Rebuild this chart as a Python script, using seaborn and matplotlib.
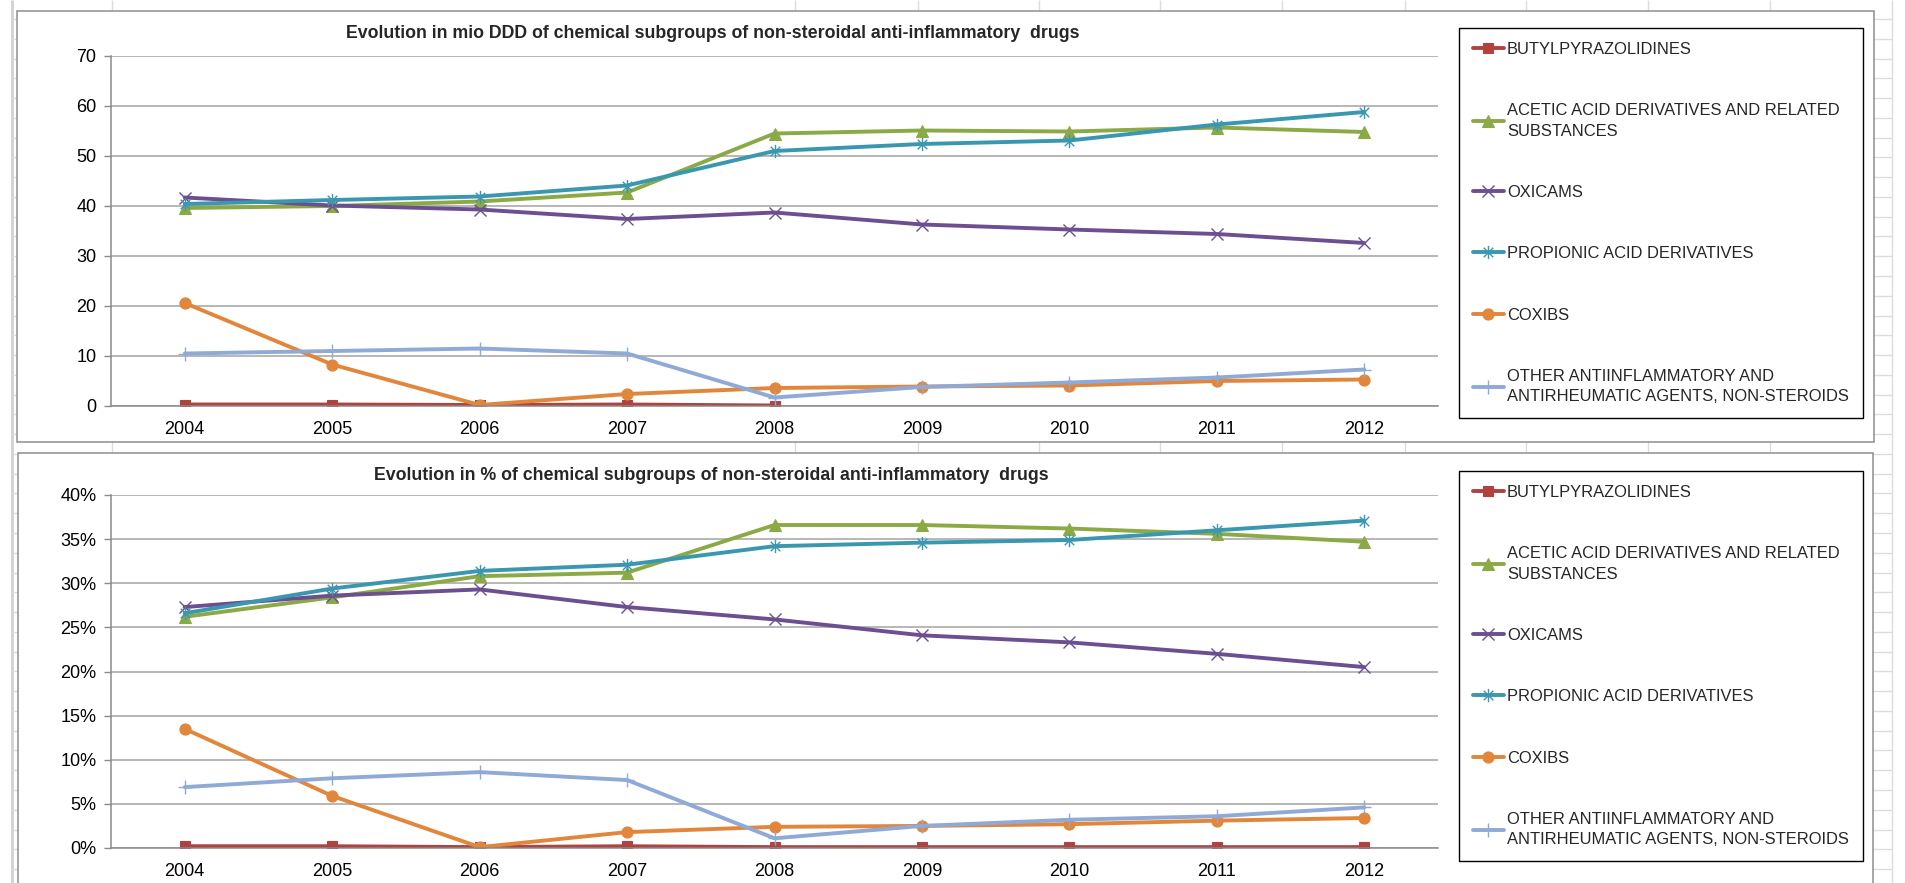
import numpy as np
import matplotlib
matplotlib.use("Agg")
import matplotlib.pyplot as plt
from matplotlib.patches import Rectangle
from matplotlib.path import Path
from matplotlib.ticker import FixedLocator, FuncFormatter
from matplotlib import font_manager
import seaborn as sns

# ---------------------------------------------------------------- data
years = [2004, 2005, 2006, 2007, 2008, 2009, 2010, 2011, 2012]

series_labels = [
    "BUTYLPYRAZOLIDINES",
    "ACETIC ACID DERIVATIVES AND RELATED\nSUBSTANCES",
    "OXICAMS",
    "PROPIONIC ACID DERIVATIVES",
    "COXIBS",
    "OTHER ANTIINFLAMMATORY AND\nANTIRHEUMATIC AGENTS, NON-STEROIDS",
]

# consumption in million DDD
ddd_butylpyrazolidines = [0.3, 0.3, 0.2, 0.3, 0.1, np.nan, np.nan, np.nan, np.nan]
ddd_acetic = [39.6, 40.0, 40.9, 42.7, 54.5, 55.1, 54.9, 55.7, 54.8]
ddd_oxicams = [41.7, 40.1, 39.3, 37.4, 38.7, 36.3, 35.3, 34.4, 32.6]
ddd_propionic = [40.4, 41.2, 41.9, 44.1, 51.0, 52.4, 53.1, 56.3, 58.8]
ddd_coxibs = [20.6, 8.3, 0.2, 2.4, 3.6, 3.9, 4.1, 5.0, 5.3]
ddd_other = [10.5, 11.0, 11.5, 10.5, 1.7, 3.8, 4.7, 5.7, 7.3]

# share of total, in percent
pct_butylpyrazolidines = [0.2, 0.2, 0.1, 0.2, 0.1, 0.1, 0.1, 0.1, 0.1]
pct_acetic = [26.2, 28.4, 30.8, 31.2, 36.6, 36.6, 36.2, 35.6, 34.7]
pct_oxicams = [27.3, 28.6, 29.3, 27.3, 25.9, 24.1, 23.3, 22.0, 20.5]
pct_propionic = [26.6, 29.4, 31.4, 32.1, 34.2, 34.6, 34.9, 36.0, 37.1]
pct_coxibs = [13.5, 5.9, 0.1, 1.8, 2.4, 2.5, 2.7, 3.1, 3.4]
pct_other = [6.9, 7.9, 8.6, 7.7, 1.1, 2.5, 3.2, 3.6, 4.6]

ddd_series = [ddd_butylpyrazolidines, ddd_acetic, ddd_oxicams,
              ddd_propionic, ddd_coxibs, ddd_other]
pct_series = [pct_butylpyrazolidines, pct_acetic, pct_oxicams,
              pct_propionic, pct_coxibs, pct_other]

ddd_ticks = [0, 10, 20, 30, 40, 50, 60, 70]
pct_ticks = [0, 5, 10, 15, 20, 25, 30, 35, 40]

title_ddd = ("Evolution in mio DDD of chemical subgroups of "
             "non-steroidal anti-inflammatory  drugs")
title_pct = ("Evolution in % of chemical subgroups of "
             "non-steroidal anti-inflammatory  drugs")

# ---------------------------------------------------------------- style
sns.set_theme(style="white")
available = {f.name for f in font_manager.fontManager.ttflist}
body_font = "Liberation Sans" if "Liberation Sans" in available else "DejaVu Sans"
title_font = ("Liberation Sans Narrow" if "Liberation Sans Narrow" in available
              else body_font)
plt.rcParams["font.family"] = [body_font, "DejaVu Sans"]

W, H = 1905, 883
fig = plt.figure(figsize=(W / 100, H / 100), dpi=100)

# asterisk marker: vertical bar crossed by an x
asterisk = Path(
    [(0, -1), (0, 1), (-0.72, -0.72), (0.72, 0.72), (-0.72, 0.72), (0.72, -0.72)],
    [Path.MOVETO, Path.LINETO] * 3,
)

colors = ["#B0423F", "#8BAA46", "#6C4F91", "#3A97B0", "#E1863A", "#8FAAD6"]
marker_styles = [
    dict(marker="s", markersize=7.8, markerfacecolor=colors[0], markeredgecolor=colors[0], markeredgewidth=0.8),
    dict(marker="^", markersize=8.6, markerfacecolor=colors[1], markeredgecolor=colors[1], markeredgewidth=0.8),
    dict(marker="x", markersize=8.3, markerfacecolor="none", markeredgecolor=colors[2], markeredgewidth=1.0),
    dict(marker=asterisk, markersize=9.5, markerfacecolor="none", markeredgecolor=colors[3], markeredgewidth=1.0),
    dict(marker="o", markersize=8.0, markerfacecolor=colors[4], markeredgecolor=colors[4], markeredgewidth=0.8),
    dict(marker="+", markersize=10.0, markerfacecolor="none", markeredgecolor=colors[5], markeredgewidth=1.0),
]

axis_grey = "#8A8A8A"
grid_grey = "#A3A3A3"
sheet_grey = "#DCDCDC"


def px_axes(x0, y0, x1, y1, **kw):
    return fig.add_axes([x0 / W, 1 - y1 / H, (x1 - x0) / W, (y1 - y0) / H], **kw)


# ---------------------------------------------------------------- worksheet backdrop
bg = px_axes(0, 0, W, H, zorder=0)
bg.set_xlim(0, W)
bg.set_ylim(H, 0)
bg.axis("off")
col_edges = [112, 795, 918, 1039, 1160, 1282, 1405, 1526, 1648, 1770, 1892]
row_edges = [19 + 19.77 * k for k in range(45)]
bg.vlines(col_edges, 0, H, color=sheet_grey, lw=1)
bg.vlines([12], 0, H, color="#D2D2D2", lw=2)
bg.hlines(row_edges, 12, 1892, color=sheet_grey, lw=1)
for (x0, y0, x1, y1) in [(17, 11, 1874, 442), (18, 453, 1873, 900)]:
    bg.add_patch(Rectangle((x0, y0), x1 - x0, y1 - y0, facecolor="white",
                           edgecolor="#8E8E8E", lw=1.1, zorder=2))


# ---------------------------------------------------------------- panels
def draw_panel(box, series, ticks, fmt, title, title_xy, legend_top):
    ax = px_axes(*box, zorder=3)
    ax.patch.set_alpha(0)
    handles = []
    for vals, lab, col, ms in zip(series, series_labels, colors, marker_styles):
        sns.lineplot(x=years, y=vals, ax=ax, color=col, linewidth=2.8,
                     errorbar=None, label=lab, legend=False, **ms)
        handles.append(ax.lines[-1])

    ax.set_xlim(years[0] - 0.5, years[-1] + 0.5)
    ax.set_ylim(ticks[0], ticks[-1])
    ax.set_xlabel("")
    ax.set_ylabel("")

    ax.yaxis.set_major_locator(FixedLocator(ticks))
    ax.yaxis.set_major_formatter(FuncFormatter(fmt))
    ax.grid(axis="y", color=grid_grey, lw=1.1)
    ax.grid(axis="x", visible=False)
    ax.set_axisbelow(True)

    ax.xaxis.set_major_locator(FixedLocator(years))
    ax.xaxis.set_minor_locator(FixedLocator([y - 0.5 for y in years] + [years[-1] + 0.5]))
    ax.tick_params(axis="x", which="major", length=0, pad=10.5, labelsize=13, labelcolor="black")
    ax.tick_params(axis="x", which="minor", length=5, width=1, color=axis_grey, direction="out")
    ax.tick_params(axis="y", which="major", length=5, width=1, color=axis_grey,
                   direction="out", pad=5.5, labelsize=13, labelcolor="black", left=True)

    for side in ("top", "right"):
        ax.spines[side].set_visible(False)
    for side in ("left", "bottom"):
        ax.spines[side].set_color(axis_grey)
        ax.spines[side].set_linewidth(1.1)

    fig.text(title_xy[0] / W, 1 - title_xy[1] / H, title, ha="center", va="center",
             fontsize=12.8, fontweight="bold", family=[title_font, "DejaVu Sans"])

    leg = ax.legend(handles, series_labels, loc="upper left",
                    bbox_to_anchor=(1459 / W, 1 - legend_top / H),
                    bbox_transform=fig.transFigure, borderaxespad=0,
                    fontsize=11.9, frameon=True, fancybox=False, framealpha=1,
                    edgecolor="black", borderpad=0.85, labelspacing=2.8,
                    handlelength=1.85, handletextpad=0.2, numpoints=1)
    for t in leg.get_texts():
        t.set_linespacing(1.45)
    leg.get_frame().set_linewidth(1.0)
    return ax


draw_panel((111, 56, 1438, 406), ddd_series, ddd_ticks,
           lambda v, _: f"{v:.0f}", title_ddd, (713, 33), 28)
draw_panel((111, 495, 1438, 848), pct_series, pct_ticks,
           lambda v, _: f"{v:.0f}%", title_pct, (711, 476), 471)

fig.savefig("out.png", dpi=100)
